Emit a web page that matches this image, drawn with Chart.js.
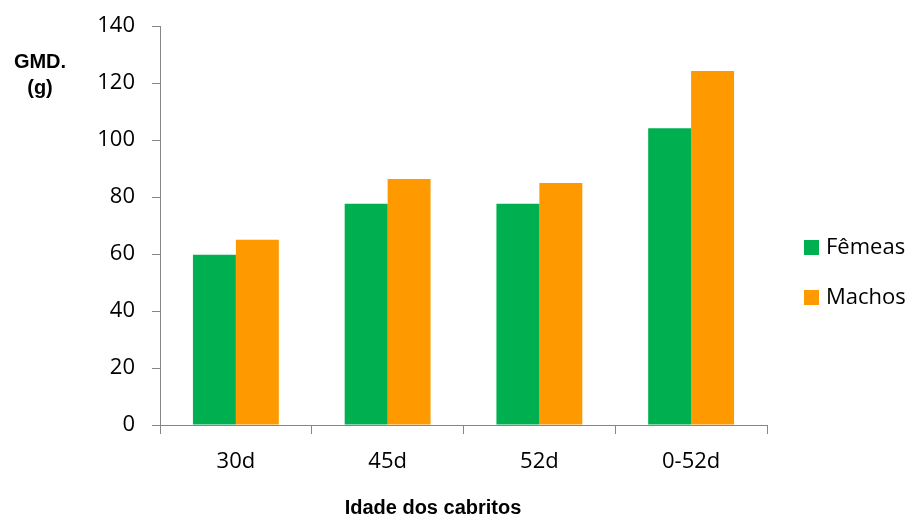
<!DOCTYPE html>
<html>
<head>
<meta charset="utf-8">
<script src="https://cdn.jsdelivr.net/npm/chart.js@4/dist/chart.umd.min.js"></script>
<style>
    html, body { margin: 0; padding: 0; background: #fff; }
    #wrap { width: 913px; height: 517px; position: relative; }
</style>
</head>
<body>
<div id="wrap"><canvas id="gmdChart"></canvas></div>
<script>
// ---------- DATA ----------
const categories = ["30d", "45d", "52d", "0-52d"];
const femeas = [59.7, 77.6, 77.6, 104.1];
const machos = [65, 86.3, 84.9, 124.2];
const yTicks = [0, 20, 40, 60, 80, 100, 120, 140];

const GREEN = "#00B050";
const ORANGE = "#FF9900";
const AXIS = "#868686";

// ---------- EXTRA TEXT + LEGEND ----------
const extras = {
    id: "extras",
    afterDraw(chart) {
        const ctx = chart.ctx;
        ctx.save();
        ctx.fillStyle = "#000";
        ctx.textAlign = "center";
        ctx.textBaseline = "middle";
        ctx.font = "bold 20px 'Liberation Sans', Arial, sans-serif";
        ctx.fillText("GMD.", 40, 62);
        ctx.fillText("(g)", 40, 88);
        ctx.fillText("Idade dos cabritos", 433, 508);

        // legend from the datasets
        ctx.textAlign = "left";
        ctx.font = "22px 'Open Sans', sans-serif";
        chart.data.datasets.forEach((ds, i) => {
            const y = 247 + i * 50;
            ctx.fillStyle = ds.backgroundColor;
            ctx.fillRect(804, y - 7, 15, 15);
            ctx.fillStyle = "#000";
            ctx.fillText(ds.label, 826, y + 1);
        });
        ctx.restore();
    }
};

new Chart(document.getElementById("gmdChart"), {
    type: "bar",
    data: {
        labels: categories,
        datasets: [
            { label: "Fêmeas", data: femeas, backgroundColor: GREEN },
            { label: "Machos", data: machos, backgroundColor: ORANGE }
        ]
    },
    options: {
        responsive: true,
        maintainAspectRatio: false,
        animation: false,
        devicePixelRatio: 1,
        categoryPercentage: 0.566,
        barPercentage: 1,
        layout: { padding: { top: 26, right: 146, bottom: 0, left: 0 } },
        plugins: {
            legend: { display: false },
            tooltip: { enabled: false }
        },
        scales: {
            x: {
                grid: { drawOnChartArea: false, drawTicks: true, tickLength: 9, color: AXIS, offset: true },
                border: { color: AXIS, width: 1 },
                ticks: { color: "#000", padding: 15, font: { family: "'Open Sans', sans-serif", size: 22 } },
                afterFit: (s) => { s.height = 92; }
            },
            y: {
                min: 0,
                max: 140,
                afterBuildTicks: (s) => { s.ticks = yTicks.map(v => ({ value: v })); },
                grid: { drawOnChartArea: false, drawTicks: true, tickLength: 8, color: AXIS },
                border: { color: AXIS, width: 1 },
                ticks: { color: "#000", padding: 17, font: { family: "'Open Sans', sans-serif", size: 22 } },
                afterFit: (s) => { s.width = 160; s.paddingTop = 0; }
            }
        }
    },
    plugins: [extras]
});
</script>
</body>
</html>
